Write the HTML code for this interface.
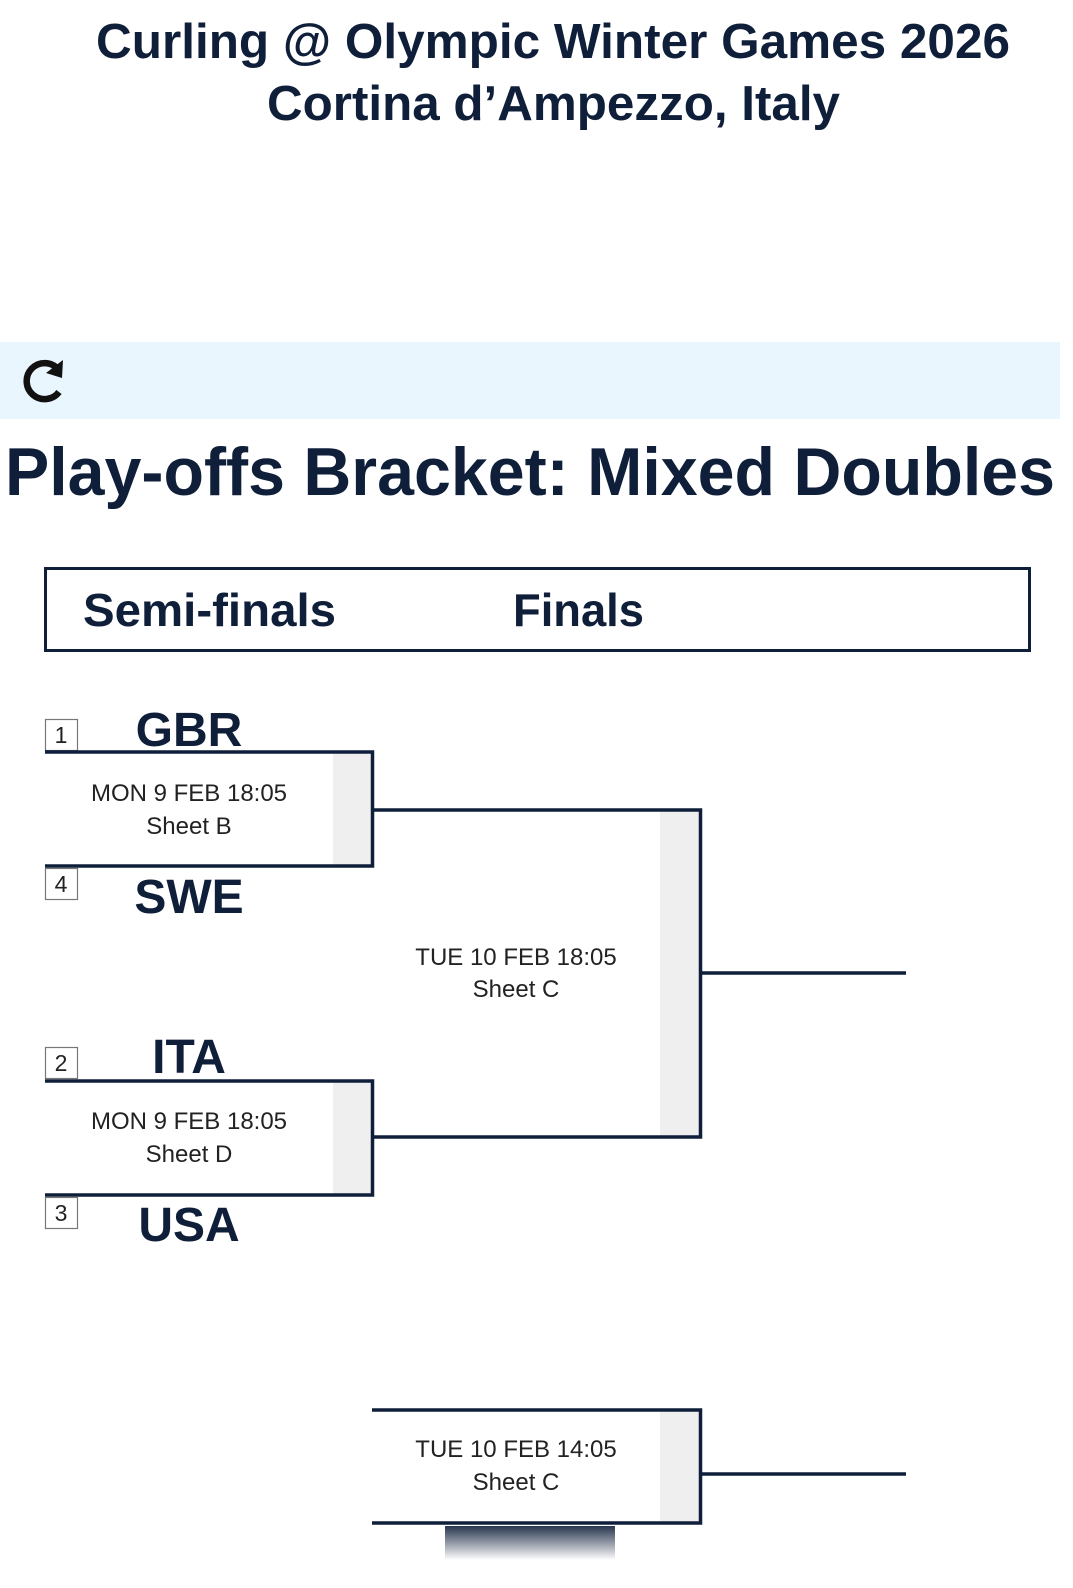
<!DOCTYPE html>
<html><head><meta charset="utf-8"><style>
html,body{margin:0;padding:0;background:#fff;}
svg{display:block}
</style></head><body>
<svg width="1073" height="1588" viewBox="0 0 1073 1588" xmlns="http://www.w3.org/2000/svg" font-family="Liberation Sans, sans-serif">
<defs>
<linearGradient id="sh" x1="0" y1="0" x2="0" y2="1">
<stop offset="0" stop-color="#0f1f3a" stop-opacity="0.9"/>
<stop offset="1" stop-color="#0f1f3a" stop-opacity="0"/>
</linearGradient>
</defs>
<g fill="#0f1f3a" font-weight="bold">
<text x="96" y="58" font-size="49" textLength="914" lengthAdjust="spacingAndGlyphs">Curling @ Olympic Winter Games 2026</text>
<text x="267" y="120" font-size="49" textLength="573" lengthAdjust="spacingAndGlyphs">Cortina d’Ampezzo, Italy</text>
</g>
<rect x="0" y="342" width="1060" height="77" fill="#eaf6fd"/>
<g fill="none" stroke="#111" stroke-width="6.5">
<path d="M58 369 A18 18 0 1 0 59 392"/>
</g>
<path d="M63 360 L62 378 L46 373 Z" fill="#111"/>
<text x="5" y="495" font-size="68" font-weight="bold" fill="#0f1f3a" textLength="1050" lengthAdjust="spacingAndGlyphs">Play-offs Bracket: Mixed Doubles</text>
<rect x="45.5" y="568.5" width="984" height="82" fill="none" stroke="#0f1f3a" stroke-width="3"/>
<text x="83" y="626" font-size="46" font-weight="bold" fill="#0f1f3a" textLength="253" lengthAdjust="spacingAndGlyphs">Semi-finals</text>
<text x="513" y="626" font-size="46" font-weight="bold" fill="#0f1f3a" textLength="131" lengthAdjust="spacingAndGlyphs">Finals</text>

<!-- grey strips -->
<rect x="333" y="752" width="39" height="114" fill="#efefef"/>
<rect x="333" y="1081" width="39" height="114" fill="#efefef"/>
<rect x="660" y="810" width="40" height="327" fill="#efefef"/>
<rect x="660" y="1410" width="40" height="113" fill="#efefef"/>

<!-- seed boxes -->
<g fill="#fff" stroke="#777" stroke-width="1.2">
<rect x="45.5" y="719.5" width="32" height="31"/>
<rect x="45.5" y="868.5" width="32" height="31"/>
<rect x="45.5" y="1047.5" width="32" height="31"/>
<rect x="45.5" y="1197.5" width="32" height="31"/>
</g>
<g font-size="23" fill="#222" text-anchor="middle">
<text x="61" y="743">1</text>
<text x="61" y="892">4</text>
<text x="61" y="1071">2</text>
<text x="61" y="1221">3</text>
</g>
<g font-size="48" font-weight="bold" fill="#0f1f3a" text-anchor="middle">
<text x="189" y="746">GBR</text>
<text x="189" y="913">SWE</text>
<text x="189" y="1073">ITA</text>
<text x="189" y="1241">USA</text>
</g>

<g fill="none" stroke="#0f1f3a" stroke-width="3.5">
<path d="M45 752 H372.5 V866 H45"/>
<path d="M45 1081 H372.5 V1195 H45"/>
<path d="M372 810 H700.5 V1137 H372"/>
<path d="M700 973 H906"/>
<path d="M372 1410 H700.5 V1523 H372"/>
<path d="M700 1474 H906"/>
</g>

<g font-size="24" fill="#222" text-anchor="middle">
<text x="189" y="801">MON 9 FEB 18:05</text>
<text x="189" y="834">Sheet B</text>
<text x="189" y="1129">MON 9 FEB 18:05</text>
<text x="189" y="1162">Sheet D</text>
<text x="516" y="965">TUE 10 FEB 18:05</text>
<text x="516" y="997">Sheet C</text>
<text x="516" y="1457">TUE 10 FEB 14:05</text>
<text x="516" y="1490">Sheet C</text>
</g>
<rect x="445" y="1526" width="170" height="34" fill="url(#sh)"/>
</svg>
</body></html>
